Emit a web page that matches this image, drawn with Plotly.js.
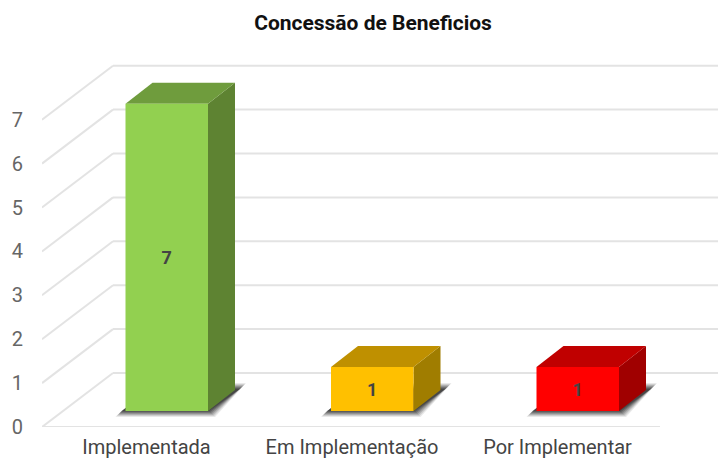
<!DOCTYPE html>
<html><head><meta charset="utf-8">
<script src="https://cdn.plot.ly/plotly-3.0.1.min.js"></script>
<style>html,body{margin:0;padding:0;background:#fff;overflow:hidden}</style>
</head><body><div id="chart" style="width:718px;height:459px"></div>
<script>
const categories = ['Implementada', 'Em Implementação', 'Por Implementar'];
const values = [7, 1, 1];
const frontColors = ['#92D050', '#FFC000', '#FF0000'];
const topColors = ['#6F9C3D', '#BF9000', '#C00000'];
const sideColors = ['#5E8332', '#A07D00', '#A00000'];
const yTicks = [0, 1, 2, 3, 4, 5, 6, 7];

const pxX = 205.5, pxY = 43.9;
const xLeft = -104.5 / pxX, xRight = xLeft + 618 / pxX;
const floorDx = 71 / pxX, floorDy = 54 / pxY;
const barDx = 27 / pxX, barDy = 21 / pxY;
const barBase = 16 / pxY, barShift = 20.25 / pxX, barWidth = 82.5 / pxX;
const gridColor = '#e3e3e3';

function poly(pts, color, opacity) {
  const path = 'M' + pts.map(p => p[0] + ',' + p[1]).join('L') + 'Z';
  return {type:'path', xref:'x', yref:'y', path, fillcolor:color, opacity:opacity===undefined?1:opacity,
          line:{width:0}, layer:'below'};
}
function seg(x0,y0,x1,y1){
  return {type:'line', xref:'x', yref:'y', x0,y0,x1,y1, line:{color:gridColor,width:2}, layer:'below'};
}
const shapes = [];
yTicks.forEach(t => {
  shapes.push(seg(xLeft, t, xLeft + floorDx, t + floorDy));
  shapes.push(seg(xLeft + floorDx, t + floorDy, 4, t + floorDy));
});
shapes.push(seg(xLeft, 0, xRight, 0));

values.forEach((v, i) => {
  const l = i + barShift - barWidth / 2, r = l + barWidth;
  const b = barBase, t = barBase + v;
  // soft shadow on the floor, several expanding layers
  [[4,0.10],[3,0.14],[2,0.18],[1,0.22],[0,0.28],[-1,0.34],[-2,0.4]].forEach(([g, op]) => {
    const gx = g / pxX, gy = g / pxY;
    shapes.push(poly([
      [l - 6/pxX - gx, b - 2/pxY - gy],
      [r + 3/pxX + gx, b - 2/pxY - gy],
      [r + barDx + 7/pxX + gx, b + 24/pxY + gy],
      [l + barDx, b + 24/pxY + gy]
    ], '#2a2a2a', op));
  });
  shapes.push(poly([[r,b],[r+barDx,b+barDy],[r+barDx,t+barDy],[r,t]], sideColors[i]));
  shapes.push(poly([[l,t],[r,t],[r+barDx,t+barDy],[l+barDx,t+barDy]], topColors[i]));
});

const trace = {
  type:'bar', x:[0,1,2], y:values, base:values.map(()=>barBase),
  width:barWidth, offset:barShift - barWidth/2,
  marker:{color:frontColors, line:{width:0}},
  text:values.map(String), textposition:'inside', insidetextanchor:'middle', textangle:0,
  insidetextfont:{family:'Roboto', size:18, color:'#444444', weight:'bold'},
  cliponaxis:false, hoverinfo:'skip'
};
const layout = {
  width:718, height:459, showlegend:false, paper_bgcolor:'#fff', plot_bgcolor:'#fff',
  margin:{l:42, r:0, t:50, b:32, pad:0},
  title:{text:'<b>Concessão de Beneficios</b>', x:373/718, xanchor:'center', y:1-23/459, yanchor:'middle',
         font:{family:'Roboto', size:21, color:'#111111'}},
  font:{family:'Roboto'},
  xaxis:{range:[xLeft, xLeft + 676/pxX], tickmode:'array', tickvals:[0,1,2], ticktext:categories,
         showgrid:false, zeroline:false, showline:false, ticks:'outside', ticklen:2, tickcolor:'rgba(0,0,0,0)',
         tickfont:{family:'Roboto', size:20, color:'#444444'}},
  yaxis:{range:[0, 377/pxY], tickmode:'array', tickvals:yTicks, ticktext:yTicks.map(String),
         showgrid:false, zeroline:false, showline:false, ticks:'outside', ticklen:14, tickcolor:'rgba(0,0,0,0)',
         tickfont:{family:'Roboto', size:20, color:'#666666'}},
  shapes
};
Plotly.newPlot('chart', [trace], layout, {displayModeBar:false, staticPlot:true});
</script></body></html>
